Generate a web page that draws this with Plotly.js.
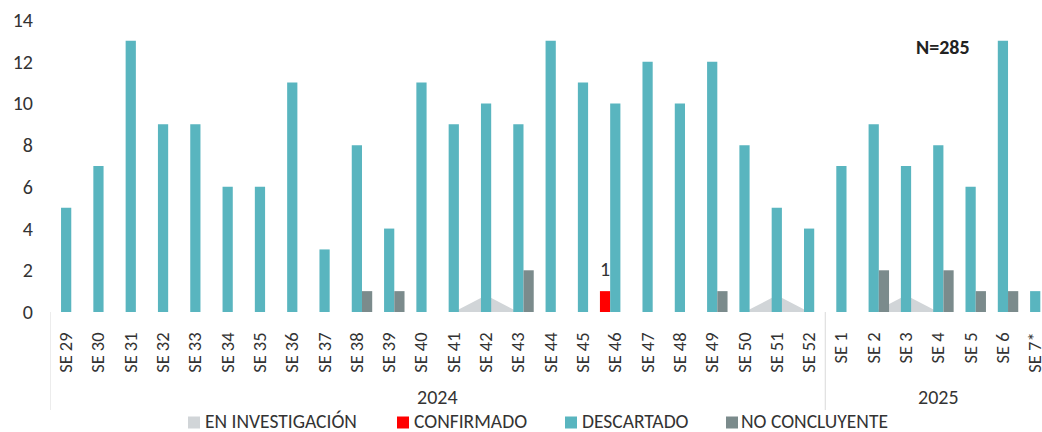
<!DOCTYPE html>
<html>
<head>
<meta charset="utf-8">
<script src="https://cdn.plot.ly/plotly-3.0.1.min.js"></script>
<style>html,body{margin:0;padding:0;background:#fff;}#chart{width:1042px;height:432px;}</style>
</head>
<body>
<div id="chart"></div>
<script>
// ---- data ----
const weeks = ['SE 29','SE 30','SE 31','SE 32','SE 33','SE 34','SE 35','SE 36','SE 37','SE 38','SE 39','SE 40','SE 41','SE 42','SE 43','SE 44','SE 45','SE 46','SE 47','SE 48','SE 49','SE 50','SE 51','SE 52','SE 1','SE 2','SE 3','SE 4','SE 5','SE 6','SE 7*'];
const years = ['2024', '2025'];
const weeksPerYear = [24, 7];
const enInvestigacion = [0,0,0,0,0,0,0,0,0,0,0,0,0,0.8,0,0,0,0,0,0,0,0,0.8,0,0,0,0.8,0,0,0,0];
const confirmado      = [0,0,0,0,0,0,0,0,0,0,0,0,0,0,0,0,0,1,0,0,0,0,0,0,0,0,0,0,0,0,0];
const descartado      = [5,7,13,9,9,6,6,11,3,8,4,11,9,10,9,13,11,10,12,10,12,8,5,4,7,9,7,8,6,13,1];
const noConcluyente   = [0,0,0,0,0,0,0,0,0,1,1,0,0,0,2,0,0,0,0,0,1,0,0,0,0,2,0,2,1,1,0];
const seriesNames = ['EN INVESTIGACIÓN', 'CONFIRMADO', 'DESCARTADO', 'NO CONCLUYENTE'];
const totalLabel = 'N=285';

// ---- style ----
const colors = ['#D1D5D8', '#FF0000', '#59B5BF', '#7B8B8C'];
const FONT = 'Carlito, "Liberation Sans", Arial, sans-serif';
const txt = '#333333';

// plot geometry (pixels)
const W = 1042, H = 432, L = 50, T = 20, B = 312;
const px2x = p => (p - L) / (W - L);
const py2y = p => (B - p) / (B - T);

const traces = [
  {type: 'scatter', x: weeks, y: enInvestigacion, mode: 'none', fill: 'tozeroy',
   fillcolor: colors[0], name: seriesNames[0], zorder: -1, hoverinfo: 'skip', showlegend: false},
  {type: 'bar', x: weeks, y: confirmado, marker: {color: colors[1]}, name: seriesNames[1], showlegend: false},
  {type: 'bar', x: weeks, y: descartado, marker: {color: colors[2]}, name: seriesNames[2], showlegend: false},
  {type: 'bar', x: weeks, y: noConcluyente, marker: {color: colors[3]}, name: seriesNames[3], showlegend: false}
];

const annotations = [];
const shapes = [];

// data label on confirmed bar(s)
confirmado.forEach((v, i) => {
  if (v > 0) annotations.push({x: weeks[i], y: v, xref: 'x', yref: 'y', text: String(v), showarrow: false,
    xshift: -10.3, yshift: 22, yanchor: 'middle', font: {family: FONT, size: 20, color: txt}});
});

// year group labels and dividers
let start = 0;
years.forEach((yr, k) => {
  const n = weeksPerYear[k];
  annotations.push({x: start + (n - 1) / 2, y: py2y(397), xref: 'x', yref: 'paper', text: yr, showarrow: false,
    yanchor: 'middle', font: {family: FONT, size: 20, color: txt}});
  shapes.push({type: 'line', xref: 'x', yref: 'paper', x0: start - 0.5, x1: start - 0.5, y0: 0, y1: py2y(410),
    line: {color: '#D9D9D9', width: 1}});
  start += n;
});

// N label
annotations.push({x: px2x(943), y: py2y(47), xref: 'paper', yref: 'paper', text: '<b>' + totalLabel + '</b>',
  showarrow: false, xanchor: 'center', yanchor: 'middle', font: {family: FONT, size: 20, color: '#222'}});

// custom legend
const legSq = [188, 397, 565, 726];
const legTx = [204, 413, 581, 740];
const legY = 420.5, sq = 12;
seriesNames.forEach((nm, i) => {
  shapes.push({type: 'rect', xref: 'paper', yref: 'paper', x0: px2x(legSq[i]), x1: px2x(legSq[i] + sq),
    y0: py2y(legY + 2 - sq / 2), y1: py2y(legY + 2 + sq / 2), fillcolor: colors[i], line: {width: 0}});
  annotations.push({x: px2x(legTx[i]), y: py2y(legY), xref: 'paper', yref: 'paper', text: nm, showarrow: false,
    xanchor: 'left', yanchor: 'middle', borderpad: 0, font: {family: FONT, size: 19.5, color: txt}});
});

const layout = {
  width: W, height: H,
  margin: {l: L, r: 0, t: T, b: H - B, pad: 0},
  paper_bgcolor: '#fff', plot_bgcolor: '#fff',
  barmode: 'group', bargap: 0.05, bargroupgap: 0,
  showlegend: false,
  font: {family: FONT, color: txt},
  xaxis: {type: 'category', range: [-0.5, 30.21], tickangle: -90, showgrid: false, zeroline: false,
    showline: true, linecolor: '#D9D9D9', linewidth: 1, ticks: '', ticklabelstandoff: 12,
    tickfont: {family: FONT, size: 18.5, color: txt}, fixedrange: true},
  yaxis: {range: [0, 14], dtick: 2, tick0: 0, showgrid: false, zeroline: false, showline: false, ticks: '',
    ticklabelstandoff: 16, tickfont: {family: FONT, size: 20, color: txt}, fixedrange: true},
  annotations: annotations,
  shapes: shapes
};

Plotly.newPlot('chart', traces, layout, {displayModeBar: false, staticPlot: true});
</script>
</body>
</html>
